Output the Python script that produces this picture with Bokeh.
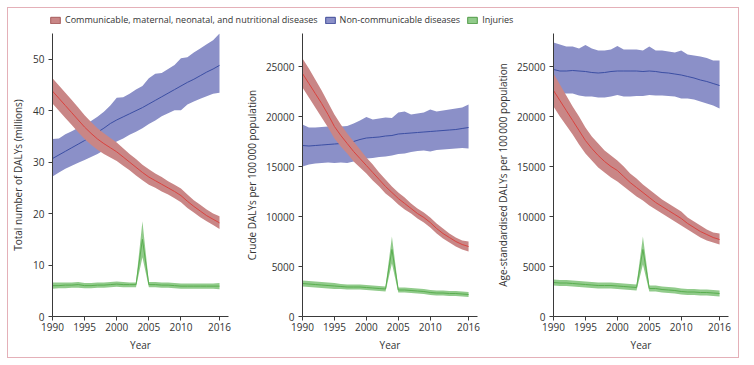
from bokeh.plotting import figure
from bokeh.layouts import row, column
from bokeh.models import Range1d, FixedTicker, Legend, LegendItem, ColumnDataSource
from bokeh.embed import file_html
from bokeh.resources import INLINE

years = list(range(1990, 2017))
x_ticks = [1990, 1995, 2000, 2005, 2010, 2016]

legend_labels = ["Communicable, maternal, neonatal, and nutritional diseases",
                 "Non-communicable diseases", "Injuries"]

# ---------- Panel 1: total number of DALYs (millions) ----------
p1_cmnn = [43.8, 42.4, 41.0, 39.6, 38.2, 36.8, 35.6, 34.5, 33.6, 32.8, 32.0, 31.0, 30.0, 29.0,
           28.0, 27.1, 26.4, 25.7, 25.0, 24.3, 23.5, 22.4, 21.4, 20.5, 19.6, 18.9, 18.2]
p1_cmnn_hi = [46.3, 44.9, 43.5, 42.1, 40.6, 39.1, 37.8, 36.6, 35.6, 34.7, 33.8, 32.7, 31.6, 30.6,
              29.5, 28.6, 27.8, 27.1, 26.3, 25.6, 24.9, 23.7, 22.6, 21.7, 20.8, 20.0, 19.5]
p1_cmnn_lo = [41.4, 40.0, 38.6, 37.2, 35.8, 34.5, 33.4, 32.4, 31.6, 30.9, 30.2, 29.3, 28.4, 27.4,
              26.5, 25.6, 25.0, 24.3, 23.7, 23.0, 22.2, 21.1, 20.2, 19.3, 18.5, 17.8, 17.0]
p1_ncd = [30.7, 31.4, 32.1, 32.8, 33.5, 34.2, 35.0, 35.8, 36.6, 37.5, 38.2, 38.8, 39.4, 40.0,
          40.6, 41.3, 42.0, 42.7, 43.4, 44.1, 44.8, 45.5, 46.1, 46.8, 47.5, 48.1, 48.8]
p1_ncd_hi = [34.5, 34.6, 35.4, 36.0, 36.7, 37.3, 38.0, 38.8, 39.8, 41.0, 42.5, 42.6, 43.3, 44.1,
             44.8, 46.3, 47.2, 47.3, 48.1, 48.9, 50.2, 50.4, 51.3, 52.1, 52.9, 53.7, 55.0]
p1_ncd_lo = [27.2, 28.0, 28.7, 29.3, 29.9, 30.4, 31.0, 31.6, 32.3, 33.2, 34.0, 34.6, 35.3, 35.9,
             36.6, 37.4, 38.1, 38.9, 39.5, 40.1, 40.1, 41.2, 41.8, 42.3, 42.8, 43.3, 43.5]
p1_inj = [6.0, 6.0, 6.1, 6.1, 6.2, 6.0, 6.0, 6.1, 6.1, 6.2, 6.3, 6.2, 6.2, 6.2,
          15.0, 6.2, 6.2, 6.1, 6.1, 6.0, 5.9, 5.9, 5.9, 5.9, 5.9, 5.9, 5.9]
p1_inj_hi = [6.6, 6.6, 6.6, 6.6, 6.7, 6.5, 6.5, 6.6, 6.6, 6.7, 6.8, 6.7, 6.6, 6.6,
             18.5, 6.7, 6.7, 6.6, 6.6, 6.5, 6.4, 6.4, 6.4, 6.4, 6.4, 6.4, 6.5]
p1_inj_lo = [5.4, 5.5, 5.5, 5.6, 5.6, 5.5, 5.5, 5.6, 5.6, 5.7, 5.8, 5.7, 5.7, 5.7,
             11.5, 5.7, 5.7, 5.6, 5.6, 5.5, 5.4, 5.4, 5.4, 5.4, 5.4, 5.4, 5.3]

# ---------- Panel 2: crude DALYs per 100 000 ----------
p2_cmnn = [24300, 23300, 22300, 21300, 20200, 19000, 18100, 17300, 16500, 15800, 15100, 14400, 13700, 13000,
           12400, 11800, 11300, 10800, 10300, 9900, 9400, 8800, 8300, 7900, 7500, 7200, 7000]
p2_cmnn_hi = [25800, 24800, 23700, 22600, 21400, 20200, 19200, 18300, 17500, 16700, 15900, 15200, 14400, 13700,
              13000, 12400, 11900, 11300, 10800, 10400, 9900, 9300, 8800, 8300, 7900, 7600, 7500]
p2_cmnn_lo = [22900, 21900, 20900, 19900, 18900, 17800, 17000, 16300, 15500, 14900, 14300, 13600, 13000, 12300,
              11800, 11200, 10700, 10300, 9800, 9400, 8900, 8300, 7800, 7400, 7000, 6700, 6500]
p2_ncd = [17100, 17050, 17100, 17150, 17200, 17250, 17300, 17350, 17500, 17700, 17850, 17900, 17950, 18050,
          18100, 18250, 18300, 18350, 18400, 18450, 18500, 18550, 18600, 18650, 18700, 18800, 18900]
p2_ncd_hi = [19200, 18900, 18900, 18950, 19000, 19050, 19000, 19050, 19300, 19600, 19950, 19700, 19800, 19900,
             19850, 20400, 20500, 20200, 20300, 20400, 20700, 20500, 20600, 20700, 20800, 20900, 21200]
p2_ncd_lo = [15000, 15200, 15300, 15350, 15400, 15350, 15400, 15350, 15500, 15700, 15800, 15850, 15950, 16000,
             16100, 16250, 16300, 16450, 16550, 16600, 16500, 16650, 16700, 16750, 16800, 16850, 16800]
p2_inj = [3300, 3250, 3200, 3150, 3100, 3050, 3000, 2950, 2950, 2950, 2900, 2850, 2800, 2750,
          6700, 2650, 2650, 2600, 2550, 2500, 2400, 2350, 2350, 2300, 2300, 2250, 2200]
p2_inj_hi = [3600, 3550, 3500, 3450, 3400, 3350, 3250, 3200, 3200, 3200, 3150, 3100, 3050, 3000,
             8000, 2900, 2900, 2850, 2800, 2750, 2650, 2600, 2600, 2550, 2550, 2500, 2450]
p2_inj_lo = [3000, 2950, 2900, 2850, 2800, 2750, 2750, 2700, 2700, 2700, 2650, 2600, 2550, 2500,
             5300, 2400, 2400, 2350, 2300, 2250, 2150, 2100, 2100, 2050, 2050, 2000, 1950]

# ---------- Panel 3: age-standardised DALYs per 100 000 ----------
p3_cmnn = [22600, 21600, 20600, 19600, 18600, 17600, 16800, 16100, 15500, 15000, 14600, 14000, 13400, 12900,
           12400, 11900, 11400, 11000, 10600, 10200, 9800, 9300, 8900, 8500, 8200, 7900, 7700]
p3_cmnn_hi = [24300, 23200, 22100, 21000, 20000, 18900, 18000, 17300, 16600, 16100, 15600, 15000, 14300, 13800,
              13200, 12700, 12200, 11700, 11300, 10900, 10500, 9900, 9500, 9100, 8700, 8400, 8300]
p3_cmnn_lo = [21000, 20000, 19100, 18200, 17200, 16300, 15600, 14900, 14400, 13900, 13500, 13000, 12500, 12000,
              11600, 11100, 10700, 10300, 9900, 9500, 9100, 8700, 8300, 7900, 7600, 7400, 7200]
p3_ncd = [24700, 24550, 24550, 24600, 24550, 24500, 24400, 24350, 24400, 24500, 24550, 24550, 24550, 24550,
          24500, 24550, 24500, 24400, 24350, 24250, 24150, 24000, 23850, 23650, 23500, 23300, 23100]
p3_ncd_hi = [27400, 27200, 27000, 27000, 26800, 27150, 26800, 26600, 26600, 26700, 27050, 26700, 26700, 26700,
             26600, 27000, 26600, 26600, 26500, 26400, 26600, 26200, 26100, 26000, 25850, 25600, 25600]
p3_ncd_lo = [22300, 22300, 22300, 22300, 22100, 22000, 22000, 21900, 21900, 22000, 22150, 22000, 22000, 22050,
             22050, 22150, 22100, 22100, 22050, 22000, 21800, 21800, 21700, 21500, 21300, 21100, 20800]
p3_inj = [3400, 3350, 3350, 3300, 3250, 3200, 3150, 3100, 3100, 3100, 3050, 3000, 2950, 2900,
          6700, 2800, 2800, 2700, 2650, 2600, 2500, 2450, 2450, 2400, 2400, 2350, 2300]
p3_inj_hi = [3700, 3650, 3650, 3600, 3550, 3500, 3450, 3400, 3400, 3400, 3350, 3300, 3250, 3200,
             8000, 3100, 3100, 3000, 2950, 2900, 2800, 2750, 2750, 2700, 2700, 2650, 2600]
p3_inj_lo = [3100, 3050, 3050, 3000, 2950, 2900, 2850, 2800, 2800, 2800, 2750, 2700, 2650, 2600,
             5200, 2500, 2500, 2400, 2350, 2300, 2200, 2150, 2150, 2100, 2100, 2050, 2000]

y_labels = ["Total number of DALYs (millions)",
            "Crude DALYs per 100\u2009000 population",
            "Age-standardised DALYs per 100\u2009000 population"]

# styling
RED_FILL, RED_LINE, RED_EDGE = "#c98686", "#d9433f", "#a55a5a"
BLUE_FILL, BLUE_LINE, BLUE_EDGE = "#8b90c8", "#3b4ea3", "#3e4a98"
GREEN_FILL, GREEN_LINE, GREEN_EDGE = "#91cb8b", "#5aae50", "#4f9a45"
FONT = "Open Sans"
AX = "#3a3a3a"


def make_panel(label, ymax, yticks, cm, cm_hi, cm_lo, nc, nc_hi, nc_lo, inj, inj_hi, inj_lo,
               left, right, label_standoff):
    p = figure(frame_width=180, frame_height=283, output_backend="svg", toolbar_location=None,
               x_range=Range1d(1990, 2017.4), y_range=Range1d(0, ymax),
               min_border_left=left, min_border_right=right, min_border_top=4, min_border_bottom=41)
    p.outline_line_color = None
    p.grid.visible = False
    p.background_fill_color = "white"
    p.border_fill_color = "white"

    p.varea(x=years, y1=nc_lo, y2=nc_hi, fill_color=BLUE_FILL)
    p.line(x=years, y=nc, line_color=BLUE_LINE, line_width=1)
    p.varea(x=years, y1=cm_lo, y2=cm_hi, fill_color=RED_FILL)
    p.line(x=years, y=cm, line_color=RED_LINE, line_width=1)
    p.varea(x=years, y1=inj_lo, y2=inj_hi, fill_color=GREEN_FILL)
    p.line(x=years, y=inj, line_color=GREEN_LINE, line_width=1)

    p.xaxis.ticker = FixedTicker(ticks=x_ticks)
    p.yaxis.ticker = FixedTicker(ticks=yticks)
    p.xaxis.axis_label = "Year"
    p.yaxis.axis_label = label
    for ax in (p.xaxis, p.yaxis):
        ax.axis_line_color = AX
        ax.major_tick_line_color = AX
        ax.minor_tick_line_color = None
        ax.major_tick_out = 4
        ax.major_tick_in = 0
        ax.major_label_text_font = FONT
        ax.major_label_text_font_size = "10px"
        ax.major_label_text_color = "#333333"
        ax.axis_label_text_font = FONT
        ax.axis_label_text_font_size = "10px"
        ax.axis_label_text_font_style = "normal"
        ax.axis_label_text_color = "#333333"
    p.xaxis.major_label_standoff = 2
    p.xaxis.axis_label_standoff = 4
    p.yaxis.major_label_standoff = 4
    p.yaxis.axis_label_standoff = label_standoff
    return p


f1 = make_panel(y_labels[0], 55, [0, 10, 20, 30, 40, 50],
                p1_cmnn, p1_cmnn_hi, p1_cmnn_lo, p1_ncd, p1_ncd_hi, p1_ncd_lo,
                p1_inj, p1_inj_hi, p1_inj_lo, 42, 13, 5)
f2 = make_panel(y_labels[1], 28300, [0, 5000, 10000, 15000, 20000, 25000],
                p2_cmnn, p2_cmnn_hi, p2_cmnn_lo, p2_ncd, p2_ncd_hi, p2_ncd_lo,
                p2_inj, p2_inj_hi, p2_inj_lo, 57, 14, 4)
f3 = make_panel(y_labels[2], 28300, [0, 5000, 10000, 15000, 20000, 25000],
                p3_cmnn, p3_cmnn_hi, p3_cmnn_lo, p3_ncd, p3_ncd_hi, p3_ncd_lo,
                p3_inj, p3_inj_hi, p3_inj_lo, 57, 9, 4)

# legend strip
lf = figure(width=732, height=21, output_backend="svg", toolbar_location=None,
            x_range=Range1d(0, 1), y_range=Range1d(0, 1),
            min_border=0, x_axis_location=None, y_axis_location=None)
lf.outline_line_color = None
lf.grid.visible = False
lf.border_fill_color = "white"
offscreen = ColumnDataSource(dict(l=[5], r=[6], t=[6], b=[5]))
items = []
for lab, fc, ec in zip(legend_labels, [RED_FILL, BLUE_FILL, GREEN_FILL], [RED_EDGE, BLUE_EDGE, GREEN_EDGE]):
    r = lf.quad(left="l", right="r", top="t", bottom="b", source=offscreen,
                fill_color=fc, line_color=ec, line_width=1)
    items.append(LegendItem(label=lab, renderers=[r]))
leg = Legend(items=items, orientation="horizontal", location=(41, 3),
             glyph_width=12, glyph_height=8, label_height=12, label_standoff=4,
             spacing=6, padding=0, margin=0, border_line_color=None,
             background_fill_alpha=0,
             label_text_font=FONT, label_text_font_size="9px", label_text_color="#333333")
lf.add_layout(leg, "center")

layout = column(lf, row(f1, f2, f3),
                styles={"border": "1px solid #e4b0b8", "background": "white",
                        "width": "732px", "margin-left": "7px", "margin-top": "7px"})

open("out.html", "w").write(file_html(layout, INLINE))
